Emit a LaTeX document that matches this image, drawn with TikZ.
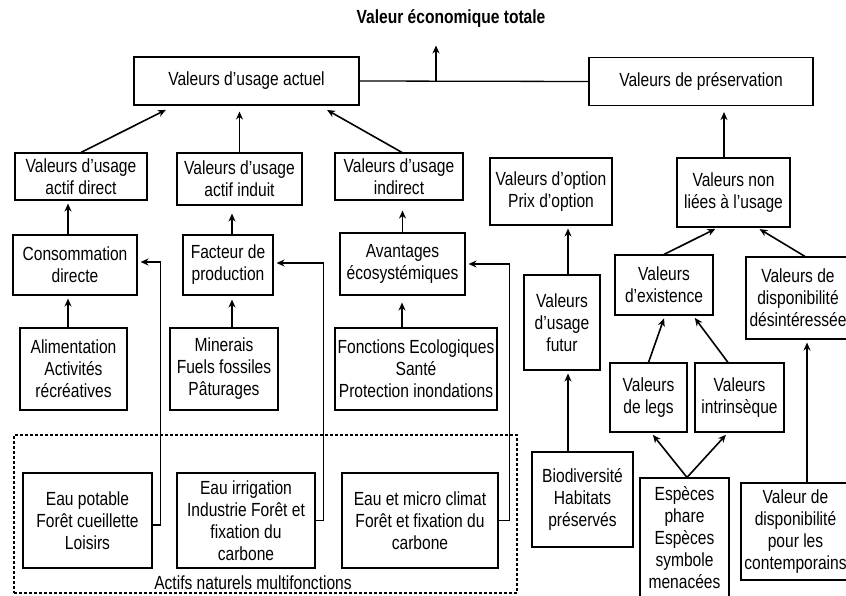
\documentclass[tikz,border=0pt]{standalone}
\usepackage{fontspec}
\setmainfont{Liberation Sans}[FakeStretch=0.82]
\usetikzlibrary{arrows.meta}
\tikzset{bx/.style={draw,rectangle,line width=1.1pt,align=center,inner sep=2pt,font=\fontsize{19pt}{22pt}\selectfont},arr/.style={-{Stealth[length=8pt,width=7pt]},line width=1.6pt,shorten >=3pt}}

\begin{document}
\begin{tikzpicture}[x=1pt,y=-1pt]
\useasboundingbox[fill=white](0,0)rectangle(846,596);
% top level
\node[font=\fontsize{19pt}{22pt}\selectfont\bfseries](vet)at(451,19){Valeur économique totale};
\node[bx,minimum width=225pt,minimum height=48pt](act)at(246.5,81){Valeurs d’usage actuel};
\node[bx,minimum width=224pt,minimum height=48pt](pres)at(701,81.5){Valeurs de préservation};
% second row
\node[bx,minimum width=132pt,minimum height=47pt](dir)at(81,176.5){Valeurs d’usage\\actif direct};
\node[bx,minimum width=125pt,minimum height=52pt](ind)at(239.5,179){Valeurs d’usage\\actif induit};
\node[bx,minimum width=128pt,minimum height=47pt](indr)at(399,176.5){Valeurs d’usage\\indirect};
\node[bx,minimum width=122pt,minimum height=67pt](opt)at(551,191.5){Valeurs d’option\\Prix d’option};
\node[bx,minimum width=113pt,minimum height=69pt](nl)at(733.5,192.5){Valeurs non\\liées à l’usage};
% third row
\node[bx,minimum width=124pt,minimum height=60pt](cons)at(75,265){Consommation\\directe};
\node[bx,minimum width=90pt,minimum height=60pt](fac)at(228,265){Facteur de\\production};
\node[bx,minimum width=125pt,minimum height=62pt](ava)at(402.5,264){Avantages\\écosystémiques};
\node[bx,minimum width=76pt,minimum height=95pt](fut)at(562,322.5){Valeurs\\d’usage\\futur};
\node[bx,minimum width=98pt,minimum height=60pt](exi)at(664,285){Valeurs\\d’existence};
\node[bx,minimum width=104pt,minimum height=82pt](dd)at(798,298){Valeurs de\\disponibilité\\désintéressée};
% fourth row
\node[bx,minimum width=107pt,minimum height=82pt](ali)at(73.5,369){Alimentation\\Activités\\récréatives};
\node[bx,minimum width=108pt,minimum height=82pt](min)at(224,369){Minerais\\Fuels fossiles\\Pâturages};
\node[bx,minimum width=162pt,minimum height=82pt](fon)at(416,369){Fonctions Ecologiques\\Santé\\Protection inondations};
\node[bx,minimum width=77pt,minimum height=69pt](leg)at(648.5,397.5){Valeurs\\de legs};
\node[bx,minimum width=89pt,minimum height=69pt](intr)at(739.5,397.5){Valeurs\\intrinsèque};
% actifs naturels
\node[draw,line width=1.4pt,dash pattern=on 3pt off 2pt,minimum width=503pt,minimum height=158pt](grp)at(265.5,514){};
\node[bx,draw=none](grplbl)at(253,583){Actifs naturels multifonctions};
\node[bx,minimum width=129pt,minimum height=95pt](pot)at(87.5,520.5){Eau potable\\Forêt cueillette\\Loisirs};
\node[bx,minimum width=138pt,minimum height=95pt](irr)at(246,520.5){Eau irrigation\\Industrie Forêt et\\fixation du\\carbone};
\node[bx,minimum width=156pt,minimum height=95pt](mic)at(420,520.5){Eau et micro climat\\Forêt et fixation du\\carbone};
\node[bx,minimum width=101pt,minimum height=95pt](bio)at(582.5,499.5){Biodiversité\\Habitats\\préservés};
\node[bx,minimum width=89pt,minimum height=120pt](esp)at(684.5,538){Espèces\\phare\\Espèces\\symbole\\menacées};
\node[bx,minimum width=109pt,minimum height=97pt](con)at(795.5,531.5){Valeur de\\disponibilité\\pour les\\contemporains};
% connectors
\coordinate(mid)at(436,81);
\draw[line width=1.3pt](act.east)--(pres.west);
\draw[arr,shorten >=14pt](mid)--(mid|-vet.south);
\draw[arr](dir.north)--([xshift=-78pt,yshift=-3pt]act.south);
\draw[arr,shorten >=6pt](ind.north)--(ind.north|-act.south);
\draw[arr]([xshift=3pt]indr.north)--([xshift=78pt,yshift=-3pt]act.south);
\draw[arr,shorten >=6pt]([xshift=-9.5pt]nl.north)--([xshift=-9.5pt]nl.north|-pres.south);
\draw[arr]([xshift=-7pt]cons.north)--([xshift=-7pt]cons.north|-dir.south);
\draw[arr]([xshift=-5.5pt]ali.north)--([xshift=-5.5pt]ali.north|-cons.south);
\draw[arr,shorten >=8pt]([xshift=4pt]fac.north)--([xshift=4pt]fac.north|-ind.south);
\draw[arr,shorten >=4pt]([xshift=8pt]min.north)--([xshift=8pt]min.north|-fac.south);
\draw[arr,shorten >=10pt](ava.north)--(ava.north|-indr.south);
\draw[arr,shorten >=7pt]([xshift=-14pt]fon.north)--([xshift=-14pt]fon.north|-ava.south);
\draw[arr]([xshift=6pt]fut.north)--([xshift=6pt]fut.north|-opt.south);
\draw[arr]([xshift=-14.5pt]bio.north)--([xshift=-14.5pt]bio.north|-fut.south);
\draw[arr](exi.north)--([xshift=-15.5pt]nl.south);
\draw[arr]([xshift=7pt]dd.north)--([xshift=23.5pt]nl.south);
\draw[arr](leg.north)--([xshift=1pt]exi.south);
\draw[arr]([xshift=-11.5pt]intr.north)--([xshift=29pt]exi.south);
\draw[arr]([xshift=2.5pt]esp.north)--([xshift=2.5pt]leg.south);
\draw[arr]([xshift=2.5pt]esp.north)--([xshift=-11.5pt]intr.south);
\draw[arr]([xshift=11.5pt]con.north)--([xshift=11.5pt]con.north|-dd.south);
\draw[arr]([yshift=-4.5pt]pot.east)--++(8,0)|-([yshift=3pt]cons.east);
\draw[arr](irr.east)--++(8,0)|-([yshift=2pt]fac.east);
\draw[arr](mic.east)--++(11,0)|-(ava.east);
\end{tikzpicture}
\end{document}
